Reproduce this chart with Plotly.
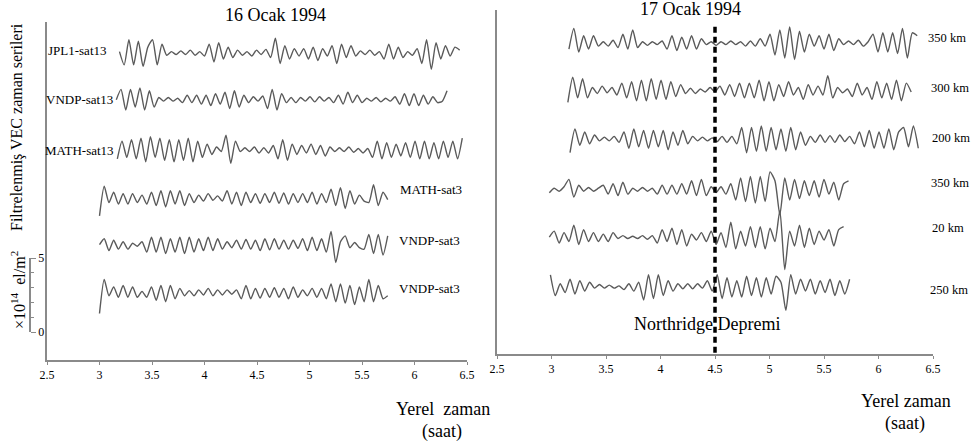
import numpy as np
import plotly.graph_objects as go

W, H = 973, 444
STEP = 0.045  # sampling step of the filtered VEC series (hours)

# ---------------- 16 Ocak 1994 (left panel) ----------------
left_names = ["JPL1-sat13", "VNDP-sat13", "MATH-sat13", "MATH-sat3", "VNDP-sat3", "VNDP-sat3"]
left_start = [3.19, 3.16, 3.17, 3.00, 3.00, 3.00]
left_base = [18.85, 15.7, 12.3, 9.05, 5.9, 2.65]

jpl1_sat13 = [0.1, -0.8, 0.9, -0.8, 0.8, -0.9, 0.4, 0.9, -0.8, 0.6,
              -0.15, 0.1, -0.1, 0.15, -0.1, 0.2, -0.15, 0.1, -0.2,
              0.6, -0.6, 0.7, -0.4, 0.4, -0.3,
              0.2, -0.15, 0.1, -0.2, 0.2, -0.1, 0.25, -0.3,
              1.0, -0.7, 0.5,
              -0.4, 0.3, -0.2, 0.3, -0.4, 0.4, -0.5, 0.3, -0.2,
              0.5, -0.7, 0.6, -0.3, 0.5, -0.2,
              0.15, -0.1, 0.2, -0.15, 0.1,
              -0.4, 0.6, -0.4, 0.4, -0.3,
              0.1, -0.15, 0.3,
              -0.7, 0.9, -1.1, 0.7,
              -0.4, 0.5, -0.2, 0.4, 0.2]

vndp_sat13 = [0.0, 0.7, -0.7, 0.7, -0.5, 0.8, -0.7, 0.6, -0.5,
              0.15, -0.1, 0.15, -0.1, 0.1, -0.2,
              0.3, -0.2, 0.3, -0.3, 0.3, -0.4, 0.4, -0.3, 0.5,
              -0.6, 0.6, -0.5, 0.3,
              -0.2, 0.2, -0.1, 0.25,
              -0.6, 0.7, -0.7, 0.4,
              -0.2, 0.15, -0.2, 0.15, -0.1, 0.2, -0.15, 0.2, -0.1, 0.15,
              -0.2, 0.3, -0.3, 0.5, -0.2, 0.3, -0.2,
              0.1, -0.1, 0.15, -0.15, 0.1, -0.1, 0.2,
              -0.3, 0.4, -0.4, 0.4, -0.4, 0.3, -0.3, 0.2, -0.2, -0.1, 0.6]

math_sat13 = [-0.6, 0.6, -0.5, 0.7, -0.6, 0.8, -0.8, 0.9, -0.5, 0.8, -0.7, 0.7,
              -0.8, 0.7, -0.7, 0.8, -0.8, 0.6, -0.5,
              0.4, -0.3, 0.2, -0.1,
              1.0, -0.9, 0.6,
              -0.1, 0.15, -0.1, 0.2, -0.2, 0.15, -0.2, 0.3,
              -0.6, 0.7, -0.7, 0.4, -0.3,
              0.3, -0.2, 0.4, -0.3, 0.3, -0.4, 0.2,
              -0.1, 0.15, -0.1, 0.2, -0.15, 0.1, -0.2, 0.1,
              -0.5, 0.6, -0.6, 0.5, -0.5, 0.4, -0.4, 0.5, -0.5, 0.6,
              -0.6, 0.6, -0.6, 0.5, -0.6, 0.6, -0.5, 0.6, -0.6, 0.8]

math_sat3 = [-1.2, 0.8,
             -0.3, 0.4, -0.4, 0.3, -0.4, 0.3, -0.3, 0.2,
             -0.4,
             0.4, -0.5, 0.5, -0.6, 0.5, -0.4, 0.5, -0.5, 0.3, -0.3,
             0.2, -0.2, 0.3, -0.15, 0.15, -0.2,
             0.5, -0.4, 0.4, -0.5, 0.4,
             -0.3, 0.3, -0.35, 0.3, -0.3, 0.4, -0.35, 0.35, -0.4, 0.3, -0.3, 0.3, -0.3, 0.4, -0.4, 0.3, -0.3,
             0.6, -0.5, 0.7, -0.7,
             0.5, -0.4, 0.2, -0.2, -0.3,
             0.9, -0.5, 0.4, -0.1]

vndp_sat3_a = [0.0, 0.4, -0.4, 0.3, -0.3, 0.2, -0.3,
               0.1, -0.1, 0.2,
               -0.5, 0.5, -0.5, 0.5, -0.6, 0.4, -0.5, 0.5, -0.6, 0.5, -0.5, 0.4,
               -0.4, 0.5, -0.4, 0.4, -0.3, 0.2, -0.2,
               0.3, -0.3, 0.35, -0.3, 0.3, -0.4, 0.4, -0.35, 0.4, -0.3, 0.3, -0.3, 0.3, -0.25,
               0.4, -0.4, 0.5, -0.4, 0.4, -0.5,
               0.9, -1.2,
               0.2, 0.6, -0.2,
               0.15, -0.2, -0.3,
               0.7, -0.6, 0.7, -0.7, 0.6]

vndp_sat3_b = [-1.4, 0.9,
               -0.2, 0.4, -0.3, 0.5, -0.3, 0.4, -0.3,
               0.1, -0.3,
               0.4, -0.5, 0.5, -0.6, 0.5, -0.4, 0.3, -0.2,
               0.15, -0.2, 0.2, -0.15, 0.3, -0.2, 0.2, -0.15, 0.2, -0.1, 0.2,
               -0.4, 0.5, -0.4, 0.3, -0.35, 0.3, -0.3, 0.35, -0.3, 0.3, -0.4, 0.4, -0.3,
               0.2, -0.2, 0.3, -0.3, 0.3, -0.4,
               0.6, -0.6, 0.6, -0.7, 0.5,
               -0.8, 0.4, -0.6,
               0.9, -0.6, 0.5, -0.4, -0.2]

left_series = [jpl1_sat13, vndp_sat13, math_sat13, math_sat3, vndp_sat3_a, vndp_sat3_b]

# ---------------- 17 Ocak 1994 (right panel) ----------------
right_names = ["350 km", "300 km", "200 km", "350 km", "20 km", "250 km"]
right_start = [3.16, 3.15, 3.17, 2.98, 2.98, 2.99]
right_base = [21.0, 17.8, 14.5, 11.1, 7.9, 4.55]

r350_top = [-0.4, 1.0, -0.6,
            0.5, -0.4, 0.5, -0.2,
            0.1, -0.2, 0.2, -0.3,
            0.6, -0.4, 0.9, -0.3,
            0.1, -0.15, 0.1, -0.1, 0.15,
            -0.4, 0.5, -0.5, 0.4, -0.4, 0.5, -0.4, 0.3,
            -0.1, 0.1, -0.15, 0.1, -0.1, 0.15, -0.1, 0.1, -0.2, 0.15, -0.2, 0.3, -0.2,
            0.6, -0.8, 0.9, -1.0, 1.1, -1.1, 0.8, -0.6, 0.6,
            -0.2, 0.5,
            -0.4, 0.6, -0.5, 0.3,
            -0.1, 0.15, -0.1, 0.2, -0.2, 0.1,
            0.6, -0.6, 0.7, -0.6, 0.7, -0.7, 1.0, -1.0, 0.7, 0.5]

r300 = [-0.8, 0.9, -0.5, 0.8, -0.5,
        0.2, -0.2, 0.3, -0.15, 0.2, -0.3,
        0.5, -0.5, 0.6, -0.7, 0.7, -0.7, 0.8, -0.6, 0.7, -0.6,
        0.6, -0.4, 0.4, -0.2,
        0.15, -0.2, 0.1, -0.1, 0.2, -0.1,
        0.3, -0.3, 0.4, -0.4, 0.5, -0.5, 0.5,
        -0.5, 0.7, -0.7, 0.6, -0.7, 0.4,
        -0.4, 0.6, -0.3, 0.2, -0.6, 0.4, -0.3, 0.3, -0.3,
        1.0, -0.5,
        0.2, -0.15, 0.1, -0.4, 0.5, -0.3, 0.2,
        -0.6, 0.6, -0.5, 0.5, -0.6, 0.7, -0.7, 0.5, -0.1]

r200 = [-0.9, 0.7, -0.4, 0.5, -0.3, 0.3,
        -0.1, 0.15, -0.1, 0.2, -0.2,
        0.5, -0.6, 0.7, -0.5, 0.6, -0.6, 0.6, -0.5,
        0.6, -0.7, 0.5, -0.4, 0.6, -0.3, 0.2,
        -0.1, 0.15, -0.1, 0.1, -0.15, 0.2, -0.2, 0.2, -0.3,
        0.8, -0.9, 0.8, -0.8, 0.9, -0.8, 0.8, -0.7, 0.7, -0.8,
        0.8, -0.7, 0.5, -0.4,
        0.2, -0.2, 0.3, -0.2, 0.25, -0.2, 0.3, -0.15, 0.2, -0.3,
        0.5, -0.5, 0.6, -0.6, 0.5, -0.6, 0.7, -0.7, 0.5, 0.8, -0.5, 0.9, -0.6]

r350_low = [-0.2, 0.1, -0.1, 0.2,
            0.7, -0.5, 0.3,
            -0.1, 0.15, -0.1, 0.1,
            0.3, -0.3, 0.4, -0.4, 0.5, -0.3,
            0.1, -0.1, 0.15, -0.1, 0.1,
            -0.3, 0.3, -0.3, 0.3, -0.3, 0.4, -0.3,
            0.6, -0.4, 0.7, -0.4, 0.2,
            -0.2, 0.2, -0.3, 0.4,
            -0.7, 0.8, -0.8, 0.9, -0.9, 0.9, -0.8, 1.2, 0.6,
            -1.7,
            0.8, -0.7, 0.7, -0.6, 0.6, -0.4,
            0.6, -0.5, 0.7, -0.3, 0.5, -0.7, 0.4, 0.6]

r20 = [0.0, 0.4, -0.4, 0.3,
       -0.3, 0.8, -0.5, 0.5, -0.3,
       0.3, -0.3, 0.2, -0.3, 0.3, -0.1,
       0.1, -0.1, 0.05, -0.1, 0.1, -0.15, 0.1,
       -0.4, 0.5, -0.3, 0.6, -0.5, 0.5, -0.6,
       0.2, -0.2, 0.3, -0.3, 0.4,
       -0.5, 0.3,
       -0.7, 1.0, -0.8, 0.4,
       -0.6, 0.7, -0.7, 0.7, -0.8, 0.6, -0.3,
       1.8, -2.2,
       0.4, -0.6, 0.8, -0.7, 0.6,
       -0.5, 0.4, -0.2, 0.5, -0.6, 0.5, 0.7]

r250 = [0.8, -0.6, 0.2,
        -0.4, 0.5, -0.5, 0.4, -0.3, 0.3,
        -0.1, 0.15, -0.1, 0.1, -0.1, 0.05,
        -0.2, 0.2, -0.3, 0.3,
        -0.9, 0.8, -0.8, 0.8, -0.6, 0.4,
        -0.3, 0.2, -0.15, 0.2, -0.15, 0.2, -0.1,
        0.4, -0.3,
        0.8, -0.8, 0.6, -0.7, 0.4,
        -0.7, 0.7, -0.6, 0.6, -0.7, 0.6, -0.5, 0.7, 0.3,
        -1.6,
        0.8, -0.5, 0.5, -0.3,
        0.5, -0.5, 0.4, -0.4, 0.5, -0.6, 0.4, -0.5, 0.5]

right_series = [r350_top, r300, r200, r350_low, r20, r250]

quake_time = 4.5
x_ticks = [2.5, 3, 3.5, 4, 4.5, 5, 5.5, 6, 6.5]
scale_ticks = [0, 5]

# ---------------- figure ----------------
LINE = "#5a5a5a"
AXC = "#8a8a8a"
FONT = "Liberation Serif"

def px(x):
    return x / W

def py(y):
    return 1 - y / H

fig = go.Figure()

for vals, t0, base in zip(left_series, left_start, left_base):
    v = np.array(vals)
    t = t0 + STEP * np.arange(len(v))
    fig.add_trace(go.Scatter(x=t, y=base + v, mode="lines", xaxis="x", yaxis="y",
                             line=dict(color=LINE, width=1.4, shape="spline", smoothing=0.6),
                             hoverinfo="skip", showlegend=False))

for vals, t0, base in zip(right_series, right_start, right_base):
    v = np.array(vals)
    t = t0 + STEP * np.arange(len(v))
    fig.add_trace(go.Scatter(x=t, y=base + v, mode="lines", xaxis="x2", yaxis="y2",
                             line=dict(color=LINE, width=1.4, shape="spline", smoothing=0.6),
                             hoverinfo="skip", showlegend=False))

# earthquake marker
fig.add_trace(go.Scatter(x=[quake_time, quake_time], y=[22.1, -0.35], mode="lines",
                         xaxis="x2", yaxis="y2", cliponaxis=False,
                         line=dict(color="black", width=3.5, dash="6px,4px"),
                         hoverinfo="skip", showlegend=False))

# scale-bar axis (invisible helper trace)
fig.add_trace(go.Scatter(x=[3, 3], y=[0, 5], mode="lines", xaxis="x", yaxis="y3",
                         line=dict(color="rgba(0,0,0,0)", width=0),
                         hoverinfo="skip", showlegend=False))

tickfont = dict(family=FONT, size=12, color="black")
xcommon = dict(range=[2.5, 6.5], tickvals=x_ticks, ticktext=[f"{v:g}" for v in x_ticks],
               showline=True, linecolor=AXC, linewidth=1.5, ticks="outside", ticklen=3,
               tickcolor=AXC, showgrid=False, zeroline=False, tickfont=tickfont,
               fixedrange=True, automargin=False)
ycommon = dict(showline=True, linecolor=AXC, linewidth=1.5, ticks="", showticklabels=False,
               showgrid=False, zeroline=False, fixedrange=True, automargin=False)

fig.update_layout(
    template="none",
    width=W, height=H, margin=dict(l=0, r=0, t=0, b=0, pad=0, autoexpand=False),
    paper_bgcolor="white", plot_bgcolor="rgba(0,0,0,0)",
    xaxis=dict(domain=[px(47), px(467)], anchor="y", **xcommon),
    yaxis=dict(domain=[py(360), py(22)], anchor="x", range=[-1.89, 20.95], **ycommon),
    xaxis2=dict(domain=[px(497), px(933)], anchor="y2", **xcommon),
    yaxis2=dict(domain=[py(354), py(10)], anchor="x2", range=[0, 23.24], **ycommon),
    yaxis3=dict(domain=[py(332), py(258)], anchor="free", position=px(30), side="right",
                range=[0, 5], showline=True, linecolor=AXC, linewidth=1.5,
                ticks="outside", ticklen=5, tickcolor=AXC, tickvals=scale_ticks,
                ticktext=[str(v) for v in scale_ticks], tickfont=tickfont,
                minor=dict(dtick=1, tick0=0, ticks="outside", ticklen=3, tickcolor=AXC),
                showgrid=False, zeroline=False, fixedrange=True, automargin=False),
)

ann = []
def add_text(text, x, y, size, xanchor="center", xref="paper", yref="paper", angle=0):
    ann.append(dict(text=text, x=x, y=y, xref=xref, yref=yref, xanchor=xanchor, yanchor="middle",
                    showarrow=False, textangle=angle, font=dict(family=FONT, size=size, color="black")))

add_text("16 Ocak 1994", px(275), py(15), 18)
add_text("17 Ocak 1994", px(690), py(9), 18)
add_text("Filtrelenmiş VEC zaman serileri", px(17), py(127), 16, angle=-90)
add_text("×10<sup>14</sup>  el/m<sup>2</sup>", px(18), py(290), 16, angle=-90)
add_text("Yerel  zaman", px(443), py(409), 18)
add_text("(saat)", px(442), py(431), 18)
add_text("Yerel zaman", px(906), py(401), 18)
add_text("(saat)", px(905), py(423), 18)
add_text("Northridge Depremi", 4.43, 2.0, 18, xref="x2", yref="y2")

left_label_x = [3.095, 3.15, 3.16, 5.84, 5.83, 5.83]
left_label_y = [19.05, 15.68, 12.3, 9.6, 6.2, 2.97]
left_label_anchor = ["right", "right", "right", "left", "left", "left"]
for name, lx, ly, xa in zip(left_names, left_label_x, left_label_y, left_label_anchor):
    add_text(name, lx, ly, 13, xanchor=xa, xref="x", yref="y")

right_label_x = [6.44, 6.46, 6.47, 6.46, 6.47, 6.45]
right_label_y = [21.35, 17.97, 14.6, 11.55, 8.5, 4.3]
for name, lx, ly in zip(right_names, right_label_x, right_label_y):
    add_text(name, lx, ly, 12.5, xanchor="left", xref="x2", yref="y2")

fig.update_layout(annotations=ann)
fig.write_html("out.html", config={"displayModeBar": False},
               post_script="document.body.style.margin='0';document.body.style.padding='0';")
